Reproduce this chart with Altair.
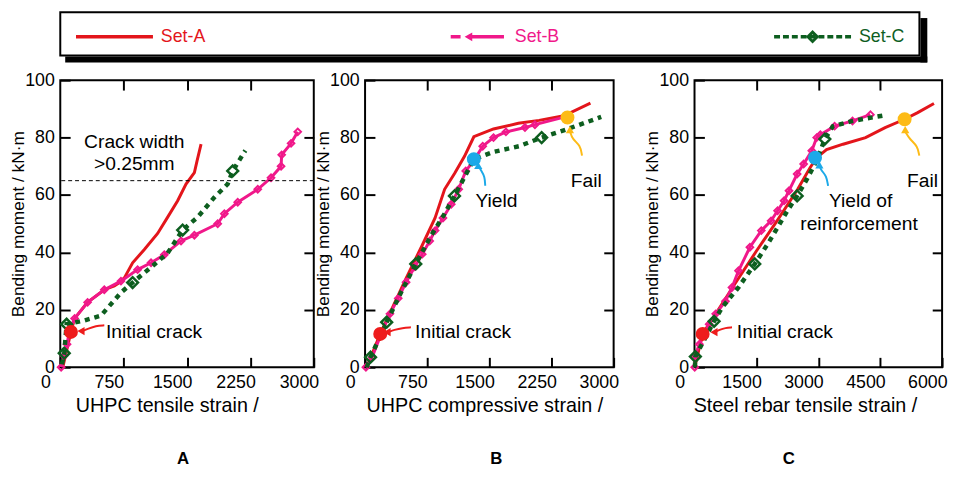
import altair as alt
import pandas as pd

SERIES = ["Set-A", "Set-B", "Set-C"]
RED, PINK, GREEN = "#e3151b", "#f0188a", "#0d5e1f"
COLORS = [RED, PINK, GREEN]
KINDS = ["initial", "yield", "fail"]
KIND_COLORS = {"initial": "#ee1c1c", "yield": "#1ca9e8", "fail": "#fdbb16"}
KIND_HEADS = {"initial": "triangle-left", "yield": "triangle-up", "fail": "triangle-up"}

# ---------------- Panel A : UHPC tensile strain ----------------
A_SETA_X = [30, 126, 170, 323, 521, 640, 700, 760, 856, 995, 1152, 1271, 1389, 1488, 1587, 1618, 1666]
A_SETA_Y = [0, 12.3, 17, 22.6, 27, 28.3, 29.5, 31.2, 36.4, 41, 46.6, 52.3, 58, 63.8, 67.8, 71.8, 77.7]
A_SETB_X = [10, 45, 80, 110, 170, 323, 521, 718, 915, 1074, 1231, 1429, 1587, 1863, 1942, 2100, 2337, 2494, 2613, 2620, 2731, 2810]
A_SETB_Y = [0, 4, 8, 13, 17, 22.6, 27, 30, 34, 36.4, 39.2, 44, 46, 50, 53.5, 57.5, 62, 66, 70, 74, 78, 82]
A_SETC_X = [20, 47, 75, 284, 482, 718, 856, 1113, 1271, 1448, 1626, 1824, 1981, 2041, 2190]
A_SETC_Y = [1, 4.9, 15, 16.3, 18, 26, 29.5, 35.8, 39.8, 47.8, 52.3, 59.2, 63.8, 68.4, 75.5]
A_SETC_MX = [47, 75, 856, 1448, 2041]
A_SETC_MY = [4.9, 15, 29.5, 47.8, 68.4]

# ---------------- Panel B : UHPC compressive strain ----------------
B_SETA_X = [20, 183, 495, 690, 845, 960, 1080, 1200, 1313, 1550, 1850, 2100, 2400, 2720]
B_SETA_Y = [0, 11.6, 31, 42.5, 52, 62, 67.5, 73.5, 80.3, 83, 85, 86, 87.6, 92]
B_SETB_X = [10, 86, 200, 300, 400, 495, 600, 690, 780, 845, 940, 1040, 1130, 1215, 1313, 1420, 1550, 1700, 1930, 2050, 2450]
B_SETB_Y = [0, 3.5, 12, 18.6, 24, 29.6, 35, 39.4, 44, 47.6, 52, 56.8, 62, 68.4, 72, 77, 80, 82, 83.5, 84.5, 87.5]
B_SETC_X = [20, 66, 261, 450, 612, 800, 950, 1079, 1196, 1313, 1547, 1858, 2131, 2446, 2850]
B_SETC_Y = [0, 3.5, 15.7, 27, 36, 46, 53, 59.7, 66, 72.5, 75, 77, 80, 83, 87.2]
B_SETC_MX = [66, 261, 612, 1079, 2131]
B_SETC_MY = [3.5, 15.7, 36, 59.7, 80]

# ---------------- Panel C : steel rebar tensile strain ----------------
C_SETA_X = [20, 197, 600, 1000, 1500, 2000, 2500, 2800, 2961, 3200, 3600, 4145, 4619, 5092, 5408, 5803]
C_SETA_Y = [1, 11.6, 20.5, 29.5, 40.5, 51, 62, 69.5, 73, 75.8, 77.7, 80, 83.5, 86.4, 88.7, 91.9]
C_SETB_X = [5, 10, 118, 355, 513, 750, 908, 1066, 1342, 1618, 1855, 2013, 2171, 2290, 2487, 2645, 2842, 2961, 3050, 3395, 3829, 4263]
C_SETB_Y = [0, 4, 8, 15, 18.6, 23, 27.8, 33.6, 41.8, 47.6, 51, 54.5, 58, 61.5, 67.3, 70.8, 75.4, 80, 81, 84, 85.8, 88]
C_SETC_X = [10, 20, 474, 671, 1066, 1460, 1776, 2013, 2250, 2487, 2724, 2961, 3158, 3355, 3829, 4619]
C_SETC_Y = [0, 3.7, 16, 20.9, 27.8, 36, 43, 48.7, 54.5, 59.7, 65.5, 72, 79.5, 84, 85.8, 87.8]
C_SETC_MX = [20, 474, 1460, 2487, 3158]
C_SETC_MY = [3.7, 16, 36, 59.7, 79.5]

CRACK_LIMIT = 65  # crack width > 0.25 mm

# ---------------- annotations ----------------
PT_PANEL = ["A", "B", "B", "B", "C", "C", "C"]
PT_KIND = ["initial", "initial", "yield", "fail", "initial", "yield", "fail"]
PT_X = [126, 183, 1313, 2443, 197, 2921, 5092]
PT_Y = [12.3, 11.6, 72.5, 87, 11.6, 73, 86.4]

ARROWS = {
    ("A", "initial"): ([521, 420, 330, 262], [14.6, 14.4, 13.4, 12.6]),
    ("B", "initial"): ([553, 450, 350, 285], [13.9, 13.7, 13.0, 12.3]),
    ("B", "yield"): ([1450, 1445, 1400, 1372], [63.2, 66.5, 68.5, 70]),
    ("B", "fail"): ([2618, 2600, 2500, 2476], [73.7, 77.3, 79.5, 82]),
    ("C", "initial"): ([908, 750, 600, 500], [13.9, 13.7, 13.0, 12.3]),
    ("C", "yield"): ([3237, 3197, 3079, 3032], [63.2, 66.7, 68.4, 70]),
    ("C", "fail"): ([5447, 5408, 5211, 5110], [73.7, 77.1, 79.5, 82]),
}
HEAD_PANEL = ["A", "B", "B", "B", "C", "C", "C"]
HEAD_KIND = ["initial", "initial", "yield", "fail", "initial", "yield", "fail"]
HEAD_X = [245, 265, 1366, 2472, 470, 3026, 5106]
HEAD_Y = [12.6, 12.2, 70.3, 82.8, 12.2, 70.5, 82.8]

TXT_PANEL = ["A", "A", "A", "B", "B", "B", "C", "C", "C", "C"]
TXT_KIND = ["note", "note", "initial", "initial", "note", "note", "initial", "note", "note", "note"]
TXT_LABEL = ["Crack width", ">0.25mm", "Initial crack", "Initial crack", "Yield", "Fail",
             "Initial crack", "Yield of", "reinforcement", "Fail"]
TXT_X = [876, 876, 541, 604, 1586, 2670, 1026, 4026, 3987, 5526]
TXT_Y = [78.6, 70.7, 12.3, 12.2, 58, 64.8, 12.2, 58, 49.9, 65]

# ---------------- tables ----------------
rows = []
for pk, sets in {
    "A": [(A_SETA_X, A_SETA_Y), (A_SETB_X, A_SETB_Y), (A_SETC_X, A_SETC_Y)],
    "B": [(B_SETA_X, B_SETA_Y), (B_SETB_X, B_SETB_Y), (B_SETC_X, B_SETC_Y)],
    "C": [(C_SETA_X, C_SETA_Y), (C_SETB_X, C_SETB_Y), (C_SETC_X, C_SETC_Y)],
}.items():
    for s, (xs, ys) in zip(SERIES, sets):
        for i, (xv, yv) in enumerate(zip(xs, ys)):
            rows.append({"panel": pk, "series": s, "x": xv, "y": yv, "order": i})
curves = pd.DataFrame(rows)

mrows = []
for pk, (mx, my) in {"A": (A_SETC_MX, A_SETC_MY), "B": (B_SETC_MX, B_SETC_MY), "C": (C_SETC_MX, C_SETC_MY)}.items():
    for xv, yv in zip(mx, my):
        mrows.append({"panel": pk, "x": xv, "y": yv})
cmarks = pd.DataFrame(mrows)

points = pd.DataFrame({"panel": PT_PANEL, "kind": PT_KIND, "x": PT_X, "y": PT_Y})
arows = []
for (pk, kd), (xs, ys) in ARROWS.items():
    for i, (xv, yv) in enumerate(zip(xs, ys)):
        arows.append({"panel": pk, "kind": kd, "x": xv, "y": yv, "order": i})
arrows = pd.DataFrame(arows)
heads = pd.DataFrame({"panel": HEAD_PANEL, "kind": HEAD_KIND, "x": HEAD_X, "y": HEAD_Y})
texts = pd.DataFrame({"panel": TXT_PANEL, "kind": TXT_KIND, "label": TXT_LABEL, "x": TXT_X, "y": TXT_Y})

FONT = "Liberation Sans"


def make_panel(pk, xmax, xvals, xtitle, width, title_x, letter, letter_dx):
    xs = alt.Scale(domain=[0, xmax], nice=False, zero=False)
    ys = alt.Scale(domain=[0, 100], nice=False, zero=False)
    xax = alt.Axis(values=xvals, title=xtitle, orient="bottom", offset=-10, tickSize=10, tickWidth=2,
                   tickColor="black", domain=False, grid=False, labelPadding=7, labelOffset=-15,
                   format="d", labelFontSize=18, labelFont=FONT, labelColor="black", labelFlush=False,
                   labelOverlap=False, titleFontSize=20, titleFont=FONT, titleFontWeight="normal",
                   titleColor="black", titlePadding=4, titleX=title_x)
    yax = alt.Axis(values=[0, 20, 40, 60, 80, 100], title="Bending moment / kN·m", orient="left",
                   offset=-10, tickSize=10, tickWidth=2, tickColor="black", domain=False, grid=False,
                   labelPadding=6, labelFontSize=18, labelFont=FONT, labelColor="black",
                   labelFlush=False, labelOverlap=False, titleFontSize=17.5, titleFont=FONT,
                   titleFontWeight="normal", titleColor="black", titlePadding=-3)
    X = alt.X("x:Q", scale=xs, axis=xax)
    Y = alt.Y("y:Q", scale=ys, axis=yax)

    cur = alt.Chart(curves[curves.panel == pk])
    red = cur.transform_filter(alt.datum.series == "Set-A").mark_line(
        color=RED, strokeWidth=3).encode(X, Y, order="order:Q")
    pink = cur.transform_filter(alt.datum.series == "Set-B").mark_line(
        color=PINK, strokeWidth=3).encode(X, Y, order="order:Q")
    pinkp = cur.transform_filter(alt.datum.series == "Set-B").mark_point(
        shape="diamond", filled=False, color=PINK, strokeWidth=2, size=45, opacity=1).encode(X, Y)
    green = cur.transform_filter(alt.datum.series == "Set-C").mark_line(
        color=GREEN, strokeWidth=4.5, strokeDash=[5, 5]).encode(X, Y, order="order:Q")
    greenp = alt.Chart(cmarks[cmarks.panel == pk]).mark_point(
        shape="diamond", filled=False, color=GREEN, strokeWidth=2.5, size=120, opacity=1).encode(X, Y)

    layers = [red, pink, pinkp, green, greenp]

    if pk == "A":
        layers.append(alt.Chart(pd.DataFrame({"y": [CRACK_LIMIT]})).mark_rule(
            color="black", strokeWidth=1, strokeDash=[4, 3]).encode(y=Y))

    for kd in KINDS:
        adf = arrows[(arrows.panel == pk) & (arrows.kind == kd)]
        if len(adf) == 0:
            continue
        col = KIND_COLORS[kd]
        layers.append(alt.Chart(adf).mark_line(strokeWidth=2, interpolate="basis", color=col).encode(
            X, Y, order="order:Q"))
        layers.append(alt.Chart(heads[(heads.panel == pk) & (heads.kind == kd)]).mark_point(
            filled=True, size=70, opacity=1, color=col, shape=KIND_HEADS[kd]).encode(X, Y))
        layers.append(alt.Chart(points[(points.panel == pk) & (points.kind == kd)]).mark_circle(
            size=200, opacity=1, color=col).encode(X, Y))

    tdf = alt.Chart(texts[texts.panel == pk])
    tl = tdf.transform_filter(alt.datum.kind == "initial").mark_text(
        align="left", baseline="middle", fontSize=19.5, font=FONT, color="black").encode(X, Y, text="label:N")
    tc = tdf.transform_filter(alt.datum.kind == "note").mark_text(
        align="center", baseline="middle", fontSize=19.5, font=FONT, color="black").encode(X, Y, text="label:N")
    layers += [tl, tc]

    inner = alt.layer(*layers)

    top_ax = alt.Axis(orient="top", values=xvals[1:-1], offset=-10, tickSize=10, tickWidth=2,
                      tickColor="black", labels=False, domain=False, grid=False, title=None)
    right_ax = alt.Axis(orient="right", values=[20, 40, 60, 80], offset=-10, tickSize=10, tickWidth=2,
                        tickColor="black", labels=False, domain=False, grid=False, title=None)
    mirror = alt.Chart(curves[curves.panel == pk]).mark_point(opacity=0).encode(
        x=alt.X("x:Q", scale=xs, axis=top_ax), y=alt.Y("y:Q", scale=ys, axis=right_ax))

    return alt.layer(inner, mirror).resolve_axis(x="independent", y="independent").properties(
        width=width, height=291,
        title=alt.TitleParams(letter, orient="bottom", anchor="middle", frame="group", dx=letter_dx,
                              offset=36, fontSize=17, fontWeight="bold", font=FONT, color="black"))


pA = make_panel("A", 3000, [0, 750, 1500, 2250, 3000], "UHPC tensile strain /", 257, 108, "A", -4)
pB = make_panel("B", 3000, [0, 750, 1500, 2250, 3000], "UHPC compressive strain /", 252, 121, "B", 7)
pC = make_panel("C", 6000, [0, 1500, 3000, 4500, 6000], "Steel rebar tensile strain /", 251, 112, "C", -30)

# ---------------- legend box ----------------
LEG_W, LEG_H = 871, 44
leg_df = pd.DataFrame({"series": SERIES})
LX = alt.X("series:N", scale=alt.Scale(type="point", domain=SERIES, padding=0.2307, align=0.3366), axis=None)
# per-series symbol look: (half length, extra shift, dash pattern, label gap)
LEG_STYLE = {
    "Set-A": (39, 0, [1, 0], 47),
    "Set-B": (27, 14, [10, 8, 200, 0], 38),
    "Set-C": (39, 0, [6, 3], 47),
}
leg_layers = []
one = alt.Chart(pd.DataFrame({"k": [0]}))
# invisible spacer: keeps the framed box indented like the reference
leg_layers.append(one.mark_rect(opacity=0).encode(
    x=alt.value(-36), x2=alt.value(-32), y=alt.value(10), y2=alt.value(20)))
leg_layers.append(one.mark_rect(color="black").encode(
    x=alt.value(LEG_W + 1), x2=alt.value(LEG_W + 8), y=alt.value(6), y2=alt.value(LEG_H + 7)))
leg_layers.append(one.mark_rect(color="black").encode(
    x=alt.value(5), x2=alt.value(LEG_W + 8), y=alt.value(LEG_H + 1), y2=alt.value(LEG_H + 7)))
for s, col in zip(SERIES, COLORS):
    half, shift, dash, gap = LEG_STYLE[s]
    ch = alt.Chart(leg_df).transform_filter(alt.datum.series == s)
    leg_layers.append(ch.mark_rule(strokeWidth=3.5, color=col, strokeDash=dash,
                                   xOffset=shift - half, x2Offset=shift + half).encode(
        x=LX, x2=alt.X2("series"), y=alt.value(25)))
    leg_layers.append(ch.mark_text(align="left", baseline="middle", dx=shift + gap, fontSize=18,
                                   font=FONT, color=col).encode(x=LX, y=alt.value(25), text="series:N"))
    if s == "Set-B":
        leg_layers.append(ch.mark_point(shape="triangle-left", filled=True, size=80, color=col, opacity=1,
                                        xOffset=shift - 9).encode(x=LX, y=alt.value(25)))
    if s == "Set-C":
        leg_layers.append(ch.mark_point(shape="diamond", filled=False, size=90, strokeWidth=3, color=col,
                                        opacity=1).encode(x=LX, y=alt.value(25)))

legend = alt.layer(*leg_layers).properties(
    width=LEG_W, height=LEG_H, view=alt.ViewBackground(stroke="black", strokeWidth=2, fill="white"))

row = alt.hconcat(alt.hconcat(pA, pB, spacing=52, bounds="flush"), pC, spacing=22)
chart = alt.vconcat(legend, row, spacing=7).properties(
    padding={"left": 0, "top": 0, "right": 0, "bottom": 0}, background="white"
).configure(padding={"left": 0, "top": 0, "right": 0, "bottom": 0}).configure_view(
    stroke="black", strokeWidth=2)

chart.save("out.html", embed_options={"renderer": "svg", "actions": False})
